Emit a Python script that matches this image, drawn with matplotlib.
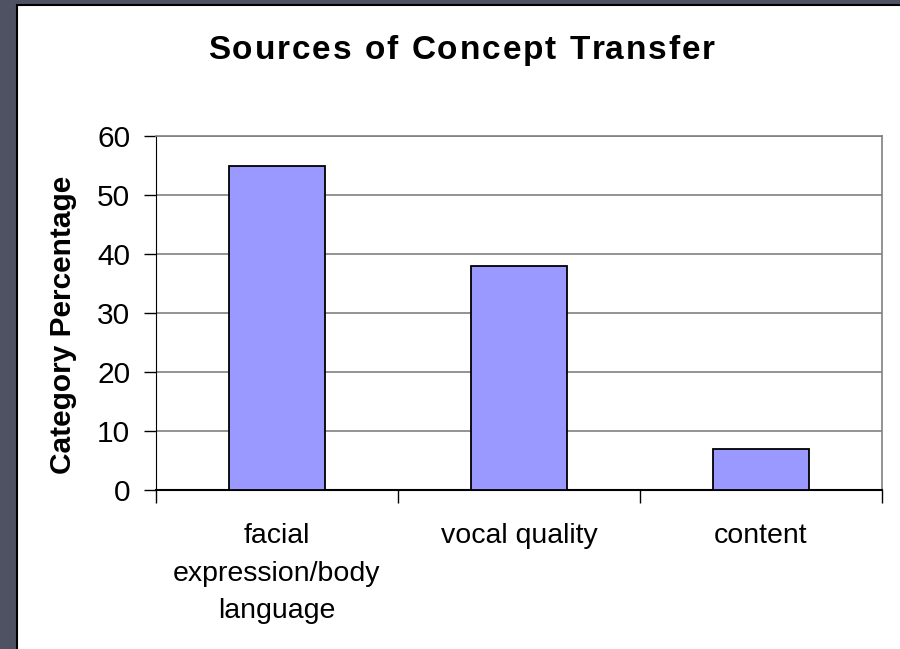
import matplotlib
matplotlib.use("Agg")
import matplotlib.pyplot as plt
from matplotlib.patches import Rectangle

categories = ["facial\nexpression/body\nlanguage", "vocal quality", "content"]
values = [55, 38, 7]
yticks = [0, 10, 20, 30, 40, 50, 60]
title = "Sources of Concept Transfer"
ylabel = "Category Percentage"

plt.rcParams['font.family'] = ['Liberation Sans', 'DejaVu Sans']

W, H = 900, 649
fig = plt.figure(figsize=(W/100, H/100), dpi=100)
fig.patch.set_facecolor('#4f5262')
# white slide panel
bg = fig.add_axes([0, 0, 1, 1], zorder=-10)
bg.set_xlim(0, W)
bg.set_ylim(H, 0)
bg.axis('off')
bg.add_patch(Rectangle((17, 5), W, H, facecolor='white', edgecolor='black', linewidth=1.5))

ax = fig.add_axes([156/W, 1 - 490/H, (882-156)/W, (490-136)/H])
ax.set_facecolor('white')
x = list(range(len(categories)))
ax.bar(x, values, width=0.4, color='#9999ff', edgecolor='black', linewidth=1.3, zorder=3)
ax.set_xlim(-0.5, len(categories) - 0.5)
ax.set_ylim(0, 60)
ax.set_yticks(yticks)
ax.set_yticklabels([str(v) for v in yticks], fontsize=21.5)
ax.yaxis.grid(True, color='#808080', linewidth=1.2, zorder=0)
ax.set_xticks(x)
ax.set_xticklabels(categories, fontsize=20.5, linespacing=1.56)
ax.set_xticks([i - 0.5 for i in range(len(categories) + 1)], minor=True)
ax.tick_params(axis='x', which='major', length=0, pad=24)
ax.tick_params(axis='x', which='minor', length=9, width=1, direction='out', color='black')
ax.tick_params(axis='y', length=9, width=1, direction='out', pad=9.5)
for s in ['top', 'right']:
    ax.spines[s].set_color('#808080')
    ax.spines[s].set_linewidth(1.2)
ax.spines['left'].set_color('black')
ax.spines['bottom'].set_color('black')
ax.spines['bottom'].set_linewidth(1.5)

fig.text(63/W, 1 - 325/H, ylabel, fontsize=21.5, fontweight='bold', rotation=90,
         ha='center', va='center')

# letter-spaced title
renderer = fig.canvas.get_renderer()
tsize = 24
def wpx(s):
    t = fig.text(0, 0, s + 'H', fontsize=tsize, fontweight='bold')
    w = t.get_window_extent(renderer).width
    t.remove()
    return w
wH = wpx('')
prefix = [wpx(title[:i]) - wH for i in range(len(title) + 1)]
target_w = 715 - 208
spacing = (target_w - prefix[-1]) / (len(title) - 1)
x0 = 461.5 - target_w / 2
for i, ch in enumerate(title):
    fig.text((x0 + prefix[i] + i * spacing) / W, 1 - 59/H, ch, fontsize=tsize,
             fontweight='bold', ha='left', va='baseline')

fig.savefig('out.png', dpi=100, facecolor=fig.get_facecolor())
